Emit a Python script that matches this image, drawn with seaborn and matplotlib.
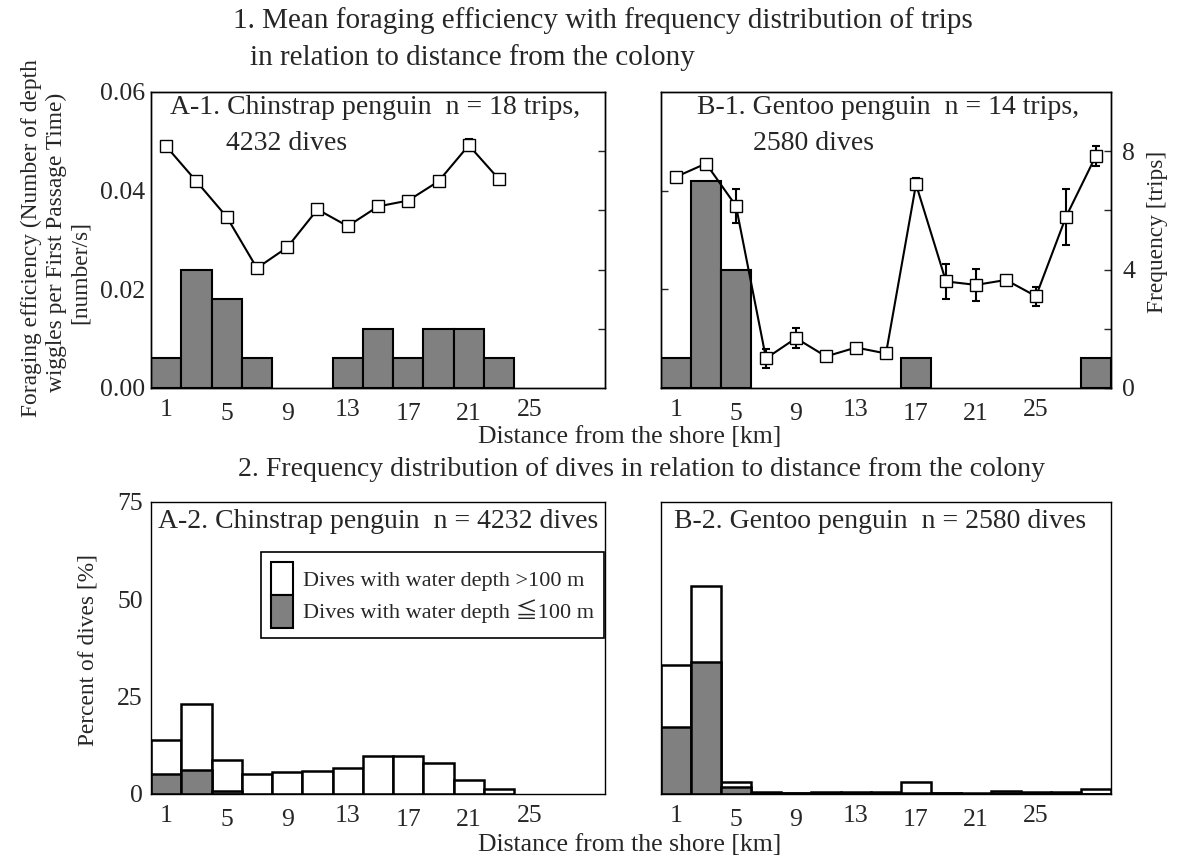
import numpy as np
import pandas as pd
import matplotlib
matplotlib.use("Agg")
import matplotlib.pyplot as plt
from matplotlib.patches import Patch
import seaborn as sns

# ---------------- data ----------------
bin_centers = [1, 3, 5, 7, 9, 11, 13, 15, 17, 19, 21, 23, 25, 27, 29]
tick_pos = [1, 5, 9, 13, 17, 21, 25]

# A-1 Chinstrap: foraging efficiency (mean, error) and trip frequency
chin_x = [1, 3, 5, 7, 9, 11, 13, 15, 17, 19, 21, 23]
chin_eff = [0.0490, 0.0419, 0.0347, 0.0243, 0.0285, 0.0362, 0.0328, 0.0368, 0.0380, 0.0419, 0.0492, 0.0423]
chin_err = [0.0008, 0.0003, 0.0007, 0.0003, 0.0009, 0.0009, 0.0005, 0.0003, 0.0003, 0.0003, 0.0012, 0.0010]
chin_trips = [1, 4, 3, 1, 0, 0, 1, 2, 1, 2, 2, 1, 0, 0, 0]

# B-1 Gentoo
gen_x = [1, 3, 5, 7, 9, 11, 13, 15, 17, 19, 21, 23, 25, 27, 29]
gen_eff = [0.0428, 0.0455, 0.0369, 0.0060, 0.0101, 0.0064, 0.0082, 0.0070, 0.0413, 0.0216, 0.0209, 0.0219, 0.0186, 0.0347, 0.0471]
gen_err = [0.0002, 0.0002, 0.0035, 0.0019, 0.0020, 0.0004, 0.0004, 0.0006, 0.0012, 0.0035, 0.0033, 0.0007, 0.0019, 0.0057, 0.0020]
gen_trips = [1, 7, 4, 0, 0, 0, 0, 0, 1, 0, 0, 0, 0, 0, 1]

# A-2 Chinstrap dives (% of dives): total and shallow (<=100 m)
chin_total = [13.8, 23.0, 8.7, 5.2, 5.6, 6.0, 6.6, 9.8, 9.8, 8.0, 3.5, 1.4, 0, 0, 0]
chin_shallow = [5.2, 6.1, 0.7, 0, 0, 0, 0, 0, 0, 0, 0, 0, 0, 0, 0]

# B-2 Gentoo dives
gen_total = [33.2, 53.3, 3.2, 0.4, 0.3, 0.4, 0.4, 0.4, 3.0, 0.3, 0.2, 0.8, 0.4, 0.4, 1.2]
gen_shallow = [17.1, 33.8, 1.7, 0.3, 0.2, 0.3, 0.3, 0.3, 0.2, 0.2, 0.1, 0.2, 0.2, 0.2, 0.1]

legend_labels = ["Dives with water depth >100 m", "Dives with water depth \u2266100 m"]

# ---------------- style ----------------
sns.set_theme(style="white")
plt.rcParams["font.family"] = ["Liberation Serif", "DejaVu Serif", "Noto Sans CJK JP"]
plt.rcParams["axes.edgecolor"] = "black"
plt.rcParams["axes.linewidth"] = 1.0

GRAY = "#808080"
FS = 18.5
FS_T = 20
FS_Y = 16.8

W, H = 1180, 866
fig = plt.figure(figsize=(W / 100, H / 100), dpi=100)


def rect(x0, y0, x1, y1):
    return [x0 / W, 1 - y1 / H, (x1 - x0) / W, (y1 - y0) / H]


def xticks_jitter(ax):
    ax.set_xticks(tick_pos)
    ax.set_xticklabels([str(t) for t in tick_pos], fontsize=FS)
    pads = {1: 8, 5: 11, 9: 11, 13: 8, 17: 11, 21: 11, 25: 8}
    ax.tick_params(axis="x", length=0)
    for t, pos in zip(ax.xaxis.get_major_ticks(), tick_pos):
        t.set_pad(pads[pos])


def drop_empty(ax):
    for p in list(ax.patches):
        if p.get_height() == 0:
            p.remove()


def hist(ax, weights, color, lw):
    df = pd.DataFrame({"km": bin_centers, "w": weights})
    sns.histplot(data=df, x="km", weights="w", binwidth=2, binrange=(0, 30), ax=ax,
                 color=color, edgecolor="black", linewidth=lw, alpha=1)


def top_panel(r, xs, eff, err, trips, left_labels, right_labels):
    ax = fig.add_axes(r)
    axf = ax.twinx()
    hist(axf, trips, GRAY, 1.5)
    drop_empty(axf)
    ax.errorbar(xs, eff, yerr=err, fmt="none", ecolor="black", elinewidth=1.5,
                capsize=3, capthick=1.5, zorder=2)
    sns.lineplot(x=xs, y=eff, ax=ax, color="black", linewidth=1.5, marker="s",
                 markersize=8, markerfacecolor="white", markeredgecolor="black",
                 markeredgewidth=1.0, zorder=3)
    ax.set_zorder(axf.get_zorder() + 1)
    ax.patch.set_visible(False)
    ax.set_xlim(0, 30)
    ax.set_ylim(0, 0.06)
    axf.set_ylim(0, 10)
    ax.set_xlabel("")
    ax.set_ylabel("")
    axf.set_ylabel("")
    if left_labels:
        ax.set_yticks([0, 0.02, 0.04, 0.06])
        ax.set_yticklabels(["0.00", "0.02", "0.04", "0.06"], fontsize=FS)
        ax.tick_params(axis="y", direction="in", length=0, pad=4)
    else:
        ax.set_yticks([0.02, 0.04])
        ax.set_yticklabels([])
        ax.tick_params(axis="y", direction="in", length=5, width=1)
    if right_labels:
        axf.set_yticks([0, 2, 4, 6, 8])
        axf.set_yticklabels(["0", "", "4", "", "8"], fontsize=FS)
        axf.tick_params(axis="y", direction="in", length=5, width=1, pad=8)
    else:
        axf.set_yticks([2, 4, 6, 8])
        axf.set_yticklabels([])
        axf.tick_params(axis="y", direction="in", length=5, width=1)
    xticks_jitter(ax)
    axf.tick_params(axis="x", length=0)
    for a in (ax, axf):
        for s in a.spines.values():
            s.set_color("black")
            s.set_linewidth(1.0)
    return ax


def bottom_panel(r, total, shallow, left_labels):
    ax = fig.add_axes(r)
    hist(ax, total, "white", 1.8)
    hist(ax, shallow, GRAY, 1.8)
    drop_empty(ax)
    ax.set_xlim(0, 30)
    ax.set_ylim(0, 75)
    ax.set_xlabel("")
    ax.set_ylabel("")
    ax.set_yticks([0, 25, 50, 75])
    if left_labels:
        ax.set_yticklabels(["0", "25", "50", "75"], fontsize=FS)
        ax.tick_params(axis="y", direction="in", length=0, pad=6)
    else:
        ax.set_yticklabels([])
        ax.tick_params(axis="y", direction="in", length=5, width=1)
    xticks_jitter(ax)
    for s in ax.spines.values():
        s.set_color("black")
        s.set_linewidth(1.0)
    return ax


axA1 = top_panel(rect(151, 92, 605, 388), chin_x, chin_eff, chin_err, chin_trips, True, False)
axB1 = top_panel(rect(661, 92, 1111, 388), gen_x, gen_eff, gen_err, gen_trips, False, True)
axA2 = bottom_panel(rect(151, 502, 605, 794), chin_total, chin_shallow, True)
axB2 = bottom_panel(rect(661, 502, 1111, 794), gen_total, gen_shallow, False)


def ftext(x, y, s, **kw):
    kw.setdefault("fontsize", FS_T)
    kw.setdefault("va", "center")
    kw.setdefault("ha", "left")
    fig.text(x / W, 1 - y / H, s, **kw)

# panel annotations
ftext(170, 108, "A-1. Chinstrap penguin  n = 18 trips,")
ftext(226, 143, "4232 dives")
ftext(697, 108, "B-1. Gentoo penguin  n = 14 trips,")
ftext(753, 143, "2580 dives")
ftext(158, 522, "A-2. Chinstrap penguin  n = 4232 dives")
ftext(674, 522, "B-2. Gentoo penguin  n = 2580 dives")

# titles
ftext(233, 21, "1. Mean foraging efficiency with frequency distribution of trips", fontsize=21)
ftext(250, 58, "in relation to distance from the colony", fontsize=21)
ftext(642, 470, "2. Frequency distribution of dives in relation to distance from the colony", ha="center")

# axis labels
ftext(630, 437, "Distance from the shore [km]", ha="center", fontsize=FS)
ftext(630, 845, "Distance from the shore [km]", ha="center", fontsize=FS)
ftext(31, 238, "Foraging efficiency (Number of depth", ha="center", rotation=90, fontsize=FS_Y)
ftext(56, 242, "wiggles per First Passage Time)", ha="center", rotation=90, fontsize=FS_Y)
ftext(80, 272, "[number/s]", ha="center", rotation=90, fontsize=FS_Y)
ftext(1157, 232, "Frequency [trips]", ha="center", rotation=90, fontsize=FS_Y)
ftext(88, 650, "Percent of dives [%]", ha="center", rotation=90, fontsize=FS_Y)

# legend
handles = [Patch(facecolor="white", edgecolor="black", linewidth=1.5),
           Patch(facecolor=GRAY, edgecolor="black", linewidth=1.5)]
leg = axA2.legend(handles, legend_labels, loc="upper left",
                  bbox_to_anchor=((261 - 151) / 454, (794 - 552) / 292),
                  fontsize=16, frameon=True, fancybox=False, edgecolor="black",
                  framealpha=1, handlelength=1.0, handleheight=1.9,
                  labelspacing=0, handletextpad=0.45, borderpad=0.45,
                  borderaxespad=0)
leg.get_frame().set_linewidth(1.2)

fig.savefig("out.png", dpi=100)
